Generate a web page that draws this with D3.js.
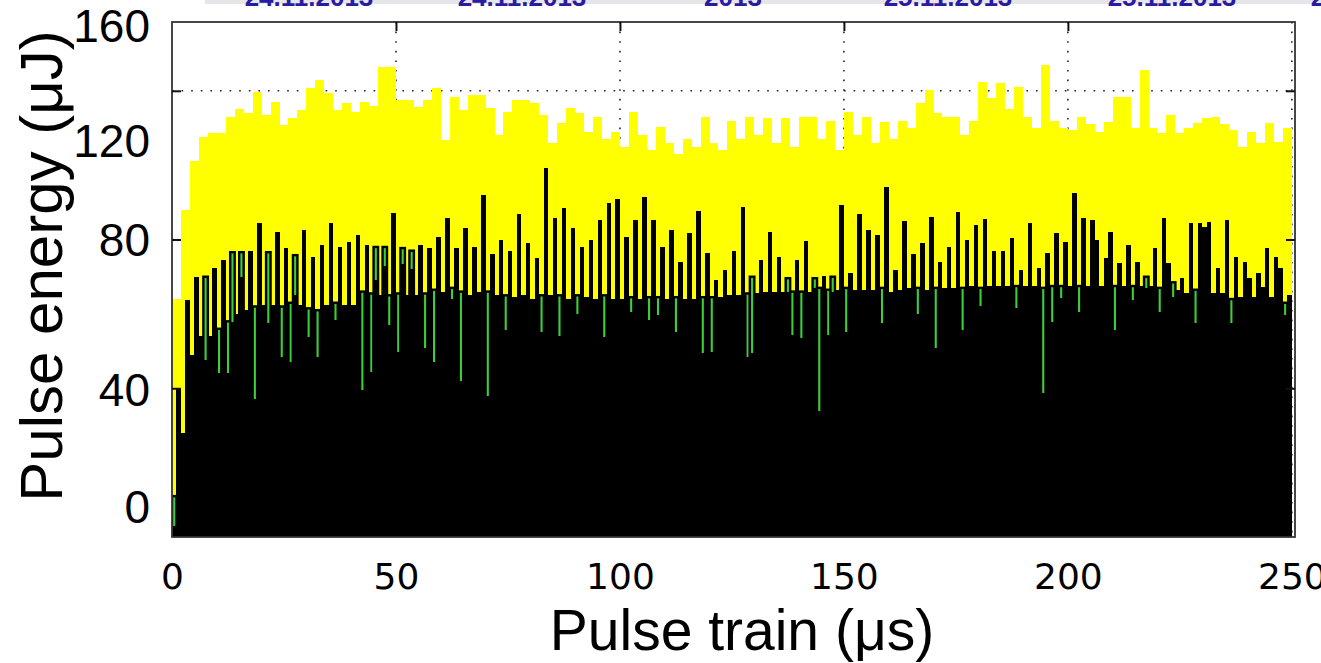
<!DOCTYPE html>
<html>
<head>
<meta charset="utf-8">
<script src="https://cdn.jsdelivr.net/npm/d3@7"></script>
<style>
  html, body { margin: 0; padding: 0; background: #ffffff; }
  svg { display: block; }
</style>
</head>
<body>
<svg id="chart" width="1321" height="663"></svg>
<script>
// ---------------- DATA ----------------
// Pulse train axis ticks (µs)
const xTickValues = [0, 50, 100, 150, 200, 250];
// Energy axis tick labels as printed on the figure
const yTickLabels = [0, 40, 80, 120, 160];
// Grid levels of the underlying plot
const yGridValues = [40, 80, 120];
// Header strip (cropped) texts
const headerTexts = ["24.11.2013", "24.11.2013", "2013", "25.11.2013", "25.11.2013", "2"];

// Yellow series: one value per 2 µs bin (125 bins)
const yellowEnergy = [
  64, 88, 101, 107.5, 108.6, 108.6, 113, 115, 114, 119.6,
  113.4, 117, 110.8, 112.6, 114.8, 120.7, 122.8, 119.4, 114.8, 116.7,
  114.2, 117, 116, 126.3, 126.3, 117.5, 117.5, 115.6, 117.5, 120.7,
  106.7, 118.3, 114.8, 118.8, 118.8, 115.3, 108, 114.2, 117.5, 117.5,
  116.7, 113.4, 106, 111.3, 115.3, 114, 109, 113, 107, 109,
  105, 114.4, 108, 104, 110.3, 106, 103, 107, 105, 113,
  106, 104, 112, 107, 113, 108, 112.6, 106, 112.6, 105,
  113, 113, 107, 112, 104, 114.4, 108, 113, 106, 111.5,
  107, 112, 110, 116.7, 120.2, 114, 113, 113, 108, 112,
  122.4, 118, 122, 115, 121, 113, 110, 127, 112, 110,
  109.5, 113, 111, 109, 111.6, 118.4, 118.4, 110, 125.5, 110,
  108.6, 113.4, 108.6, 110, 111.3, 112.6, 113, 111, 109.4, 105,
  109, 106, 111.3, 106.2, 110
];

// Black series: one value per 1 µs pulse (250 pulses)
const blackEnergy = [
  3, 40, 28, 63.7, 49, 70, 54, 47.6, 54, 72.3,
  44, 74.5, 44, 57.8, 60, 70, 61, 77, 37, 84.4,
  62.4, 57.5, 62.4, 82, 48.4, 77.7, 47, 65, 62.4, 82.5,
  53.8, 75.3, 48.4, 78.5, 62.4, 84.4, 58.3, 78, 62.4, 79.3,
  62.4, 81.2, 39.5, 78.5, 44.4, 69, 65, 73, 57, 87,
  49.7, 73.5, 65, 72, 65, 78.5, 50.8, 77.7, 47, 80.6,
  66, 85.8, 64, 77.7, 42, 83, 65, 78, 66, 92,
  38, 76, 65, 80, 55.6, 77, 64.5, 86.8, 65, 79,
  64, 75, 55, 99.2, 65, 85.8, 54, 88.4, 64, 83,
  60, 78, 64.5, 80, 64, 85.2, 53.8, 89.8, 64, 90.9,
  64, 80.7, 60.5, 85.2, 64, 91.4, 58.3, 85.2, 59.7, 78,
  64, 82.5, 55, 74, 64, 81.7, 64, 87.6, 49.5, 76.3,
  49.8, 69, 64.5, 71.8, 65, 76.9, 65, 88.7, 48.4, 49.5,
  65.5, 74.5, 66, 82, 66, 75.3, 66, 66, 54.3, 74.5,
  53.5, 79.6, 66, 67, 34, 70.2, 54.3, 66, 66.5, 89.2,
  55, 71, 66.5, 86.8, 66.5, 82.5, 66.5, 81.2, 57.5, 94,
  66, 71.8, 66.5, 85, 67, 76, 60, 79, 66.5, 86,
  50.8, 74, 67, 78, 67, 87.4, 55.6, 80, 67.5, 84,
  62, 85.5, 67.5, 77, 67.5, 77, 67.5, 80.4, 61.6, 71.8,
  67.5, 84.4, 67.5, 72.3, 38.7, 76.3, 57.8, 81.7, 64.2, 79.3,
  67.5, 92.5, 60.5, 85.8, 67.5, 85.2, 79.8, 67.5, 75, 82,
  55.6, 73.7, 67.5, 78.5, 63.7, 74, 67.5, 67, 67.5, 77.7,
  60.5, 85.8, 73.7, 64.5, 66.5, 69.6, 65.5, 84.4, 57.5, 84.4,
  83.3, 84.7, 65.5, 72.3, 65.5, 85.2, 57.5, 75.3, 64.5, 74,
  69.6, 64.5, 71, 67.2, 77.7, 64.5, 75.3, 72.3, 59.7, 65
];

// Green series: one value per 1 µs pulse (0 = hidden / not shown)
const greenEnergy = [
  11, 0, 0, 0, 0, 0, 0, 70, 0, 0,
  56, 0, 58, 76.6, 0, 76.6, 0, 0, 62, 0,
  0, 76.6, 0, 0, 62, 0, 63, 75.8, 0, 0,
  61.5, 0, 61, 0, 0, 0, 63, 0, 0, 0,
  0, 0, 66, 0, 65.5, 78, 0, 78, 65, 0,
  65.5, 77.7, 0, 77, 0, 0, 65.5, 0, 66.5, 0,
  0, 0, 67, 0, 66, 0, 0, 0, 0, 0,
  66, 0, 0, 0, 65, 0, 0, 0, 0, 0,
  0, 0, 65, 0, 0, 0, 65, 0, 0, 0,
  65, 0, 0, 0, 0, 0, 65, 0, 0, 0,
  0, 0, 64.5, 0, 0, 0, 64.5, 0, 64.5, 0,
  0, 0, 64.5, 0, 0, 0, 0, 0, 64.5, 0,
  64.5, 0, 0, 0, 0, 0, 0, 0, 65.5, 70,
  0, 0, 0, 0, 0, 0, 0, 69.6, 66, 0,
  66, 0, 0, 69.6, 67, 0, 66.5, 70, 0, 0,
  67, 0, 0, 0, 0, 0, 0, 0, 67, 0,
  0, 0, 0, 0, 0, 0, 67, 0, 0, 0,
  67, 0, 0, 0, 0, 0, 67, 0, 0, 0,
  67, 0, 0, 0, 0, 0, 0, 0, 67.5, 0,
  0, 0, 0, 0, 67, 0, 67.5, 0, 67.5, 0,
  0, 0, 67.5, 0, 0, 0, 0, 0, 0, 0,
  67.5, 0, 0, 0, 67.5, 0, 0, 70, 0, 0,
  67, 0, 0, 68.5, 0, 0, 0, 0, 66.5, 0,
  0, 0, 0, 0, 0, 0, 64, 0, 0, 0,
  0, 0, 0, 0, 0, 0, 0, 0, 63, 0
];

// ---------------- LAYOUT ----------------
const svg = d3.select("#chart");
const plot = { left: 172, right: 1295, top: 22, bottom: 537 };

const x = d3.scaleLinear().domain([0, 250.7]).range([plot.left, plot.right]);
const y = d3.scaleLinear().domain([0, 138.5]).range([plot.bottom, plot.top]);
// printed tick labels of the figure sit at these places on the energy axis
const yLabelScale = d3.scaleLinear().domain(yTickLabels).range([508, 391, 241, 142, 27]);

const yellowBins = yellowEnergy.map((v, i) => ({ x0: 2 * i, x1: 2 * i + 2, v }));
const blackBins = blackEnergy.map((v, i) => ({ x0: i, x1: i + 1, v }));
const greenBins = greenEnergy.map((v, i) => ({ x0: i, x1: i + 1, v })).filter(d => d.v > 0);

svg.append("defs").append("clipPath").attr("id", "clip")
  .append("rect")
  .attr("x", plot.left).attr("y", plot.top)
  .attr("width", plot.right - plot.left).attr("height", plot.bottom - plot.top);

// header strip (cropped)
svg.append("rect").attr("x", 205).attr("y", 0).attr("width", 1116).attr("height", 4).attr("fill", "#e6e6ea");
const headerX = [309, 522, 733, 948, 1172, 1318];
svg.append("g").selectAll("text").data(headerTexts).join("text")
  .attr("x", (d, i) => headerX[i]).attr("y", 6)
  .attr("text-anchor", "middle")
  .attr("font-family", "Liberation Sans, Arial, sans-serif")
  .attr("font-weight", "bold").attr("font-size", 26)
  .attr("fill", "#2a1ca0").text(d => d);

// grid
const grid = svg.append("g");
grid.selectAll("line.v").data(xTickValues.filter(d => d > 0)).join("line")
  .attr("x1", d => x(d)).attr("x2", d => x(d))
  .attr("y1", plot.top).attr("y2", plot.bottom)
  .attr("stroke", "#222").attr("stroke-width", 1.6).attr("stroke-dasharray", "1.6,8");
grid.selectAll("line.h").data(yGridValues).join("line")
  .attr("x1", plot.left).attr("x2", plot.right)
  .attr("y1", d => y(d)).attr("y2", d => y(d))
  .attr("stroke", "#222").attr("stroke-width", 1.6).attr("stroke-dasharray", "1.6,8");

const bars = svg.append("g").attr("clip-path", "url(#clip)");

bars.selectAll("rect.yellow").data(yellowBins).join("rect")
  .attr("x", d => x(d.x0)).attr("width", d => x(d.x1) - x(d.x0))
  .attr("y", d => y(d.v)).attr("height", d => y(0) - y(d.v))
  .attr("fill", "#ffff00").attr("shape-rendering", "crispEdges");

bars.selectAll("rect.green").data(greenBins).join("rect")
  .attr("x", d => x(d.x0)).attr("width", d => x(d.x1) - x(d.x0))
  .attr("y", d => y(d.v)).attr("height", d => y(0) - y(d.v))
  .attr("fill", "#3ccf3c").attr("stroke", "#000").attr("stroke-width", 2.4);

bars.selectAll("rect.black").data(blackBins).join("rect")
  .attr("x", d => x(d.x0)).attr("width", d => x(d.x1) - x(d.x0))
  .attr("y", d => y(d.v)).attr("height", d => y(0) - y(d.v))
  .attr("fill", "#000").attr("shape-rendering", "crispEdges");

// frame
svg.append("rect")
  .attr("x", plot.left).attr("y", plot.top)
  .attr("width", plot.right - plot.left).attr("height", plot.bottom - plot.top)
  .attr("fill", "none").attr("stroke", "#333").attr("stroke-width", 1.8);

// inner tick marks
const tickLen = 9;
svg.append("g").attr("transform", `translate(0,${plot.top})`)
  .call(d3.axisBottom(x).tickValues(xTickValues.filter(d => d > 0 && d < 250)).tickSize(tickLen).tickFormat(""))
  .call(g => g.select(".domain").remove())
  .call(g => g.selectAll("line").attr("stroke", "#111").attr("stroke-width", 2));
svg.append("g").attr("transform", `translate(${plot.left},0)`)
  .call(d3.axisRight(y).tickValues(yGridValues).tickSize(tickLen).tickFormat(""))
  .call(g => g.select(".domain").remove())
  .call(g => g.selectAll("line").attr("stroke", "#111").attr("stroke-width", 2));
svg.append("g").attr("transform", `translate(${plot.right},0)`)
  .call(d3.axisLeft(y).tickValues(yGridValues).tickSize(tickLen).tickFormat(""))
  .call(g => g.select(".domain").remove())
  .call(g => g.selectAll("line").attr("stroke", "#111").attr("stroke-width", 2));

// x tick labels
const xAxis = svg.append("g").attr("transform", `translate(0,${plot.bottom})`)
  .call(d3.axisBottom(x).tickValues(xTickValues).tickSize(0).tickPadding(26).tickFormat(d3.format("d")));
xAxis.select(".domain").remove();
xAxis.selectAll("text")
  .attr("font-family", "DejaVu Sans, sans-serif").attr("font-size", 36).attr("fill", "#000");

// y tick labels
const yAxis = svg.append("g").attr("transform", "translate(150,0)")
  .call(d3.axisLeft(yLabelScale).tickValues(yTickLabels).tickSize(0).tickPadding(0).tickFormat(d3.format("d")));
yAxis.select(".domain").remove();
yAxis.selectAll("text")
  .attr("font-family", "Liberation Sans, Arial, sans-serif").attr("font-size", 46).attr("fill", "#000");

// axis titles
svg.append("text")
  .attr("x", 742).attr("y", 650).attr("text-anchor", "middle")
  .attr("font-family", "Liberation Sans, Arial, sans-serif").attr("font-size", 57)
  .text("Pulse train (μs)");
svg.append("text")
  .attr("transform", "translate(62,266) rotate(-90)").attr("text-anchor", "middle")
  .attr("font-family", "Liberation Sans, Arial, sans-serif").attr("font-size", 60)
  .text("Pulse energy (μJ)");
</script>
</body>
</html>
